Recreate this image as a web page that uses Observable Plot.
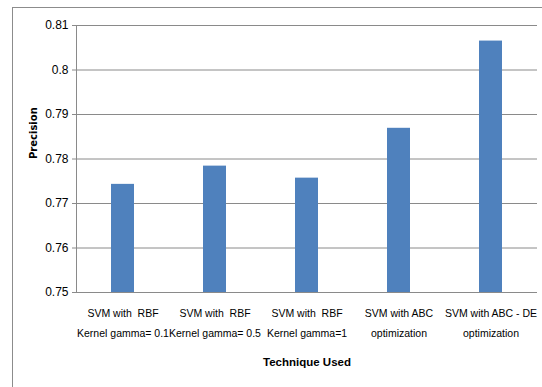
<!DOCTYPE html>
<html>
<head>
<meta charset="utf-8">
<script src="https://cdn.jsdelivr.net/npm/d3@7"></script>
<script src="https://cdn.jsdelivr.net/npm/@observablehq/plot@0.6"></script>
<style>
  html, body { margin: 0; padding: 0; background: #fff; }
  #wrap { position: relative; width: 542px; height: 387px; overflow: hidden; }
  #border { position: absolute; left: 12px; top: 7px; width: 600px; height: 400px;
            border-left: 1px solid #8c8c8c; border-top: 1px solid #8c8c8c; pointer-events: none; }
</style>
</head>
<body>
<div id="wrap"><div id="border"></div></div>
<script>
const categories = ["c1", "c2", "c3", "c4", "c5"];
const labelLine1 = ["SVM with  RBF", "SVM with  RBF", "SVM with  RBF", "SVM with ABC", "SVM with ABC - DE"];
const labelLine2 = ["Kernel gamma= 0.1", "Kernel gamma= 0.5", "Kernel gamma=1", "optimization", "optimization"];
const precision = [0.7743, 0.7784, 0.7757, 0.7869, 0.8065];
const yTicks = [0.75, 0.76, 0.77, 0.78, 0.79, 0.80, 0.81];

const data = categories.map((c, i) => ({cat: c, value: precision[i]}));
const labelOf = c => {
  const i = categories.indexOf(c);
  return labelLine1[i] + "\n" + labelLine2[i];
};

const font = "'Liberation Sans', Arial, sans-serif";

const chart = Plot.plot({
  width: 542,
  height: 387,
  marginLeft: 76,
  marginRight: 5,
  marginTop: 25,
  marginBottom: 95,
  style: {background: "transparent", fontFamily: font, fontSize: "11px", color: "#000", overflow: "visible"},
  x: {type: "band", domain: categories, paddingInner: 0.75, paddingOuter: 0.375, label: null},
  y: {domain: [0.75, 0.81], label: null},
  marks: [
    Plot.gridY(yTicks, {stroke: "#8a8a8a", strokeOpacity: 1, strokeWidth: 1}),
    Plot.barY(data, {x: "cat", y1: () => 0.75, y2: "value", fill: "#4F81BD"}),
    Plot.frame({anchor: "left", stroke: "#8a8a8a"}),
    Plot.axisY(yTicks, {
      tickSize: 4, tickPadding: 4, stroke: "#8a8a8a",
      tickFormat: d => String(+d.toFixed(2)),
      fontSize: 12, fill: "#000", label: null
    }),
    Plot.axisX({
      tickSize: 0, tickPadding: 11, tickFormat: labelOf,
      fontSize: 10.5, lineHeight: 1.85, fill: "#000", label: null
    }),
    Plot.ruleY([0.75], {stroke: "#8a8a8a"}),
    Plot.text(["Technique Used"], {
      frameAnchor: "bottom", dy: 73, fontWeight: "bold", fontSize: 11.5, fill: "#000"
    }),
    Plot.text(["Precision"], {
      frameAnchor: "left", dx: -43, rotate: -90, fontWeight: "bold", fontSize: 10,
      fontFamily: "'DejaVu Sans', sans-serif", fill: "#000"
    })
  ]
});
chart.style.position = "absolute";
chart.style.left = "0";
chart.style.top = "0";
document.getElementById("wrap").appendChild(chart);
</script>
</body>
</html>
